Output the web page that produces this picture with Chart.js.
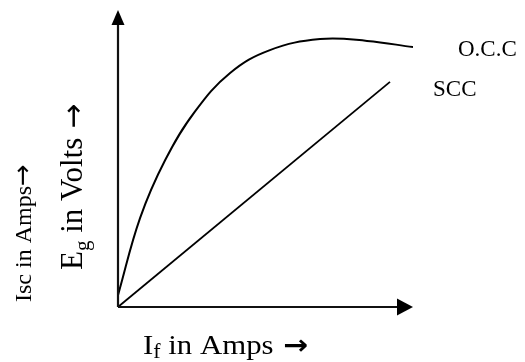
<!DOCTYPE html>
<html>
<head>
<meta charset="utf-8">
<script src="https://cdn.jsdelivr.net/npm/chart.js@4/dist/chart.umd.min.js"></script>
<style>
html,body{margin:0;padding:0;background:#fff;}
canvas{display:block;}
</style>
</head>
<body>
<canvas id="c" width="525" height="362"></canvas>
<script>
// Open circuit characteristic (field current %, generated EMF %)
const occX = [0, 7.5, 16, 26, 38, 51.5, 68.5, 84.4, 100];
const occY = [4, 30, 49.5, 65.7, 78.8, 86.5, 90.2, 89.6, 87.5];
// Short circuit characteristic
const sccX = [0, 92.2];
const sccY = [0, 75.8];
// Labels
const seriesLabels = ["O.C.C", "SCC"];
const xAxisLabel = ["I", "f", " in Amps"];
const yAxisLabel1 = ["E", "g", " in Volts"];
const yAxisLabel2 = "Isc in Amps";
const arrowChar = "\u2192";

const SERIF = '"Liberation Serif", "Times New Roman", serif';
const SANS = '"DejaVu Sans", sans-serif';

function pts(xs, ys){ return xs.map((x,i)=>({x:x, y:ys[i]})); }

function drawSubText(ctx, parts, size, subSize, subDrop, gap, arrowFont, arrowSize, arrowDy){
  let x = 0;
  ctx.font = size + 'px ' + SERIF;
  ctx.fillText(parts[0], x, 0); x += ctx.measureText(parts[0]).width;
  ctx.font = subSize + 'px ' + SERIF;
  ctx.fillText(parts[1], x, subDrop); x += ctx.measureText(parts[1]).width;
  ctx.font = size + 'px ' + SERIF;
  ctx.fillText(parts[2], x, 0); x += ctx.measureText(parts[2]).width + gap;
  ctx.font = arrowFont + ' ' + arrowSize + 'px ' + SANS;
  ctx.fillText(arrowChar, x, arrowDy);
}

const decor = {
  id: 'decor',
  afterDatasetsDraw(chart){
    const ctx = chart.ctx;
    const xs = chart.scales.x, ys = chart.scales.y;
    const ox = xs.getPixelForValue(0), oy = ys.getPixelForValue(0);
    const xEnd = xs.getPixelForValue(xs.max), yEnd = ys.getPixelForValue(ys.max);
    ctx.save();
    ctx.strokeStyle = '#111'; ctx.fillStyle = '#000';
    ctx.lineWidth = 2.2;
    // x axis
    ctx.beginPath(); ctx.moveTo(ox, oy); ctx.lineTo(xEnd - 14, oy); ctx.stroke();
    ctx.beginPath(); ctx.moveTo(xEnd, oy); ctx.lineTo(xEnd - 16, oy - 8.5); ctx.lineTo(xEnd - 16, oy + 8.5); ctx.closePath(); ctx.fill();
    // y axis
    ctx.beginPath(); ctx.moveTo(ox, oy); ctx.lineTo(ox, yEnd + 13); ctx.stroke();
    ctx.beginPath(); ctx.moveTo(ox, yEnd); ctx.lineTo(ox - 6.5, yEnd + 15); ctx.lineTo(ox + 6.5, yEnd + 15); ctx.closePath(); ctx.fill();

    ctx.fillStyle = '#000';
    ctx.textBaseline = 'alphabetic';
    ctx.textAlign = 'left';
    // series labels
    ctx.font = '23px ' + SERIF;
    ctx.fillText(seriesLabels[0], 458, 56);
    ctx.fillText(seriesLabels[1], 433, 96);
    // x axis label
    ctx.save(); ctx.translate(143, 354); ctx.scale(1.1, 1);
    drawSubText(ctx, xAxisLabel, 28, 20, 4, 9, 'bold', 27, 0);
    ctx.restore();
    // y labels (rotated)
    ctx.save(); ctx.translate(82, 270); ctx.rotate(-Math.PI/2);
    drawSubText(ctx, yAxisLabel1, 31, 21, 7, 9, 'normal', 30, 1);
    ctx.restore();
    ctx.save(); ctx.translate(31, 302); ctx.rotate(-Math.PI/2);
    ctx.font = '24px ' + SERIF;
    ctx.fillText(yAxisLabel2, 0, 0);
    const w = ctx.measureText(yAxisLabel2).width;
    ctx.font = 'normal 26px ' + SANS;
    ctx.fillText(arrowChar, w, 0);
    ctx.restore();
    ctx.restore();
  }
};

new Chart(document.getElementById('c'), {
  type: 'line',
  data: {
    datasets: [
      { label: seriesLabels[0], data: pts(occX, occY), borderColor: '#000', borderWidth: 2, pointRadius: 0, tension: 0.4, fill: false },
      { label: seriesLabels[1], data: pts(sccX, sccY), borderColor: '#000', borderWidth: 1.8, pointRadius: 0, tension: 0, fill: false }
    ]
  },
  options: {
    responsive: false,
    devicePixelRatio: 1,
    animation: false,
    events: [],
    layout: { padding: { left: 118, right: 112, top: 10, bottom: 55 } },
    plugins: { legend: { display: false }, tooltip: { enabled: false } },
    scales: {
      x: { type: 'linear', min: 0, max: 100, display: false },
      y: { type: 'linear', min: 0, max: 100, display: false }
    }
  },
  plugins: [decor]
});
</script>
</body>
</html>
